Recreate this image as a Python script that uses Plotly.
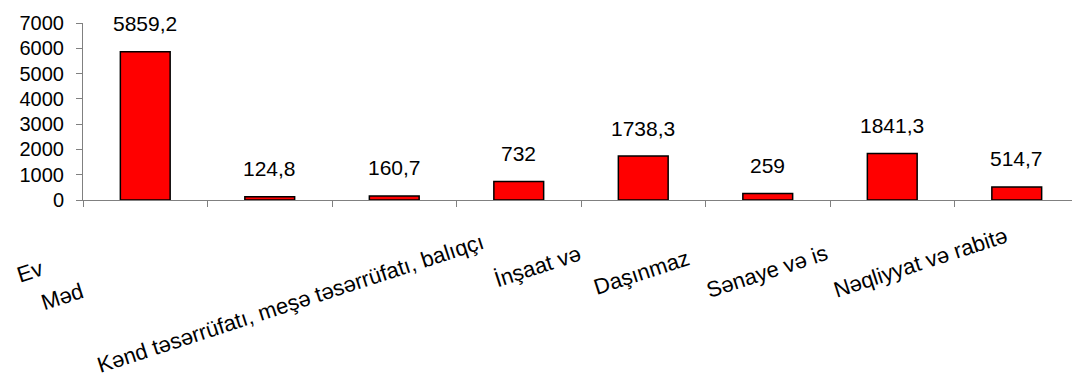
import plotly.graph_objects as go

bar_keys = ["c1", "c2", "c3", "c4", "c5", "c6", "c7", "c8"]
values = [5859.2, 124.8, 160.7, 732, 1738.3, 259, 1841.3, 514.7]
value_labels = ["5859,2", "124,8", "160,7", "732", "1738,3", "259", "1841,3", "514,7"]
axis_labels = ["Ev", "Məd", "Kənd təsərrüfatı, meşə təsərrüfatı, balıqçı",
               "İnşaat və", "Daşınmaz", "Sənaye və is", "Nəqliyyat və rabitə"]
# label placement (pixel offsets relative to category centre / axis line)
label_cat = [0, 1, 2, 3, 4, 5, 6]
label_xshift = [-134, -234, -303, -30, -55, -67, -64]
label_yshift = [-90, -118, -180, -95, -102, -105, -105]

FONT = "Liberation Sans, Arial, sans-serif"

fig = go.Figure()
fig.add_trace(go.Bar(
    x=bar_keys, y=values, width=0.4,
    marker=dict(color="#FF0000", line=dict(color="#000000", width=1.5)),
    hoverinfo="skip",
))

for k, v, t in zip(bar_keys, values, value_labels):
    fig.add_annotation(x=k, y=v, text=t, showarrow=False, xref="x", yref="y",
                       yanchor="middle", yshift=28,
                       font=dict(family=FONT, size=21, color="#000000"))

for c, t, xs, ys in zip(label_cat, axis_labels, label_xshift, label_yshift):
    fig.add_annotation(x=bar_keys[c], y=0, xref="x", yref="paper", text=t,
                       showarrow=False, textangle=-18, xanchor="left", yanchor="bottom",
                       xshift=xs, yshift=ys,
                       font=dict(family=FONT, size=22, color="#000000"))

fig.update_layout(
    width=1072, height=379,
    margin=dict(l=83, r=0, t=23, b=179),
    paper_bgcolor="white", plot_bgcolor="white",
    showlegend=False,
    font=dict(family=FONT, size=20, color="#000000"),
)
fig.update_xaxes(
    type="category", categoryorder="array", categoryarray=bar_keys,
    range=[-0.5, -0.5 + 989 / 124.5],
    showticklabels=False, showgrid=False, zeroline=False,
    showline=True, linecolor="#808080", linewidth=1,
    ticks="outside", tickson="boundaries", ticklen=6, tickcolor="#808080",
)
fig.update_yaxes(
    range=[0, 7000], tickvals=[0, 1000, 2000, 3000, 4000, 5000, 6000, 7000],
    showgrid=False, zeroline=False,
    showline=True, linecolor="#808080", linewidth=1,
    ticks="outside", ticklen=6, tickcolor="#808080",
    ticklabelstandoff=8,
    tickfont=dict(family=FONT, size=20, color="#000000"),
)

fig.write_html("out.html")
